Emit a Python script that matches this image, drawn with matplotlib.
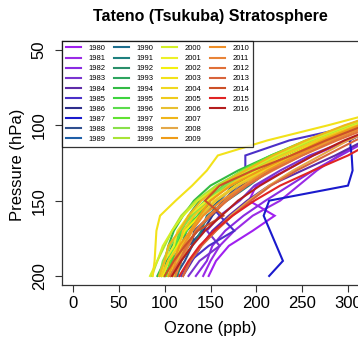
import matplotlib
matplotlib.use("Agg")
import matplotlib.pyplot as plt
from matplotlib.lines import Line2D

plt.rcParams['font.family'] = ['Liberation Sans', 'DejaVu Sans']

# Pressure levels (hPa) at which each yearly profile is sampled
pressure = [200, 190, 180, 170, 160, 150, 140, 130, 120, 110, 100, 90]

years = list(range(1980, 2017))

# Mean ozone (ppb) per year at each pressure level
ozone = {
    1980: [148, 156, 170, 196, 220, 192, 200, 232, 262, 300, 340, 380],
    1981: [142, 150, 160, 176, 196, 226, 246, 266, 290, 318, 348, 385],
    1982: [134, 146, 152, 166, 186, 210, 236, 262, 292, 322, 352, 390],
    1983: [126, 138, 160, 146, 160, 182, 198, 226, 258, 300, 338, 380],
    1984: [120, 130, 140, 152, 170, 190, 214, 250, 286, 318, 350, 385],
    1985: [118, 128, 148, 176, 160, 146, 172, 188, 188, 236, 310, 360],
    1986: [112, 116, 126, 142, 152, 166, 184, 204, 230, 268, 316, 360],
    1987: [214, 229, 222, 215, 208, 214, 300, 305, 304, 302, 330, 370],
    1988: [112, 122, 130, 132, 150, 164, 180, 196, 228, 270, 314, 360],
    1989: [106, 110, 122, 128, 140, 160, 174, 196, 226, 262, 308, 355],
    1990: [110, 118, 122, 136, 150, 158, 176, 200, 224, 258, 304, 350],
    1991: [114, 118, 130, 140, 146, 168, 192, 214, 240, 274, 316, 360],
    1992: [100, 108, 118, 124, 140, 150, 166, 196, 230, 266, 310, 356],
    1993: [96, 102, 108, 118, 126, 138, 158, 186, 220, 262, 306, 350],
    1994: [92, 100, 104, 110, 120, 132, 150, 180, 216, 256, 300, 345],
    1995: [100, 108, 112, 120, 136, 148, 164, 190, 222, 262, 304, 350],
    1996: [98, 104, 110, 118, 128, 144, 168, 196, 226, 266, 308, 352],
    1997: [102, 106, 112, 124, 132, 146, 160, 184, 216, 254, 298, 345],
    1998: [94, 98, 106, 116, 130, 146, 166, 194, 226, 262, 304, 350],
    1999: [86, 92, 100, 108, 118, 134, 156, 186, 222, 262, 306, 350],
    2000: [84, 92, 98, 108, 120, 136, 160, 190, 222, 258, 300, 345],
    2001: [96, 100, 110, 114, 126, 146, 172, 200, 230, 266, 308, 352],
    2002: [98, 104, 114, 122, 138, 156, 178, 206, 236, 270, 312, 356],
    2003: [87, 89, 90, 91, 95, 112, 130, 146, 158, 212, 278, 340],
    2004: [104, 112, 118, 128, 140, 154, 178, 208, 240, 276, 316, 360],
    2005: [96, 104, 116, 120, 132, 150, 170, 196, 228, 266, 310, 355],
    2006: [110, 114, 122, 130, 140, 156, 180, 212, 246, 280, 320, 362],
    2007: [94, 100, 104, 116, 126, 140, 160, 188, 218, 254, 296, 345],
    2008: [120, 128, 140, 156, 172, 192, 214, 240, 270, 300, 338, 378],
    2009: [104, 110, 116, 128, 138, 150, 172, 204, 238, 272, 312, 356],
    2010: [108, 112, 120, 130, 142, 162, 186, 212, 244, 278, 318, 360],
    2011: [112, 118, 126, 134, 148, 166, 188, 218, 250, 284, 324, 366],
    2012: [106, 116, 124, 134, 150, 168, 190, 216, 250, 288, 330, 372],
    2013: [120, 128, 140, 156, 174, 194, 216, 244, 276, 308, 346, 386],
    2014: [100, 110, 122, 136, 164, 144, 160, 196, 238, 276, 318, 362],
    2015: [116, 126, 138, 154, 174, 198, 226, 262, 300, 330, 360, 395],
    2016: [108, 118, 130, 144, 162, 180, 204, 232, 262, 296, 336, 376],
}

year_colors = [
    '#A020F0', '#9A2BE6', '#8A2BE2', '#7A35D0', '#5E2CA8',
    '#4B30C8', '#2E2E8C', '#1A1ACD', '#2F4F8F', '#1F5FA8',
    '#1E6E8E', '#1E807E', '#2A8F6A', '#2EA55E', '#33BB44',
    '#3ED43E', '#5CDC4C', '#62E232', '#8AE04A', '#A8E436',
    '#D4F028', '#ECF028', '#F4F010', '#F2E21A', '#F0D820',
    '#EFCB1C', '#E8C030', '#EFB61A', '#E4A848', '#EE9C18',
    '#F09028', '#E88438', '#E07038', '#D8643C', '#CC5028',
    '#E02424', '#B41E1E',
]

x_ticks = [0, 50, 100, 150, 200, 250, 300]
y_ticks = [50, 100, 150, 200]

W, H = 358, 338
fig = plt.figure(figsize=(W / 100, H / 100), dpi=100)
ax = fig.add_axes([62 / W, 53 / H, 297 / W, 244 / H])

for yr, col in zip(years, year_colors):
    ax.plot(ozone[yr], pressure, color=col, lw=1.5, solid_joinstyle='miter')

ax.set_xlim(-12, 312)
ax.set_ylim(206, 44)
ax.set_xticks(x_ticks)
ax.set_yticks(y_ticks)
ax.set_xticklabels([str(v) for v in x_ticks], fontsize=12)
ax.set_yticklabels([str(v) for v in y_ticks], fontsize=12, rotation=90, va='center')
ax.tick_params(axis='both', direction='out', length=5, width=0.8, color='#333333')
ax.tick_params(axis='x', pad=3)
ax.tick_params(axis='y', pad=6)
for s in ax.spines.values():
    s.set_color('#333333')
    s.set_linewidth(0.9)

# Legend: four columns of ten rows, the last column padded with blanks
handles = [Line2D([], [], color=c, lw=1.5) for c in year_colors]
labels = [str(y) for y in years]
for _ in range(3):
    handles.append(Line2D([], [], color='none'))
    labels.append('')
leg = ax.legend(handles, labels, ncol=4, loc='upper left', bbox_to_anchor=(0, 1),
                fontsize=5.5, frameon=True, fancybox=False, borderaxespad=0,
                handlelength=2.0, handletextpad=1.0, columnspacing=1.07,
                labelspacing=0.36, borderpad=0.5)
leg.get_frame().set_edgecolor('black')
leg.get_frame().set_linewidth(0.9)

fig.text(210 / W, 1 - 17 / H, 'Tateno (Tsukuba) Stratosphere', ha='center', va='center',
         fontsize=11.5, fontweight='bold')
fig.text(210 / W, 1 - 328 / H, 'Ozone (ppb)', ha='center', va='center', fontsize=12)
fig.text(18 / W, 1 - 165 / H, 'Pressure (hPa)', ha='center', va='center', fontsize=12,
         rotation=90)

fig.savefig('out.png', dpi=100)
